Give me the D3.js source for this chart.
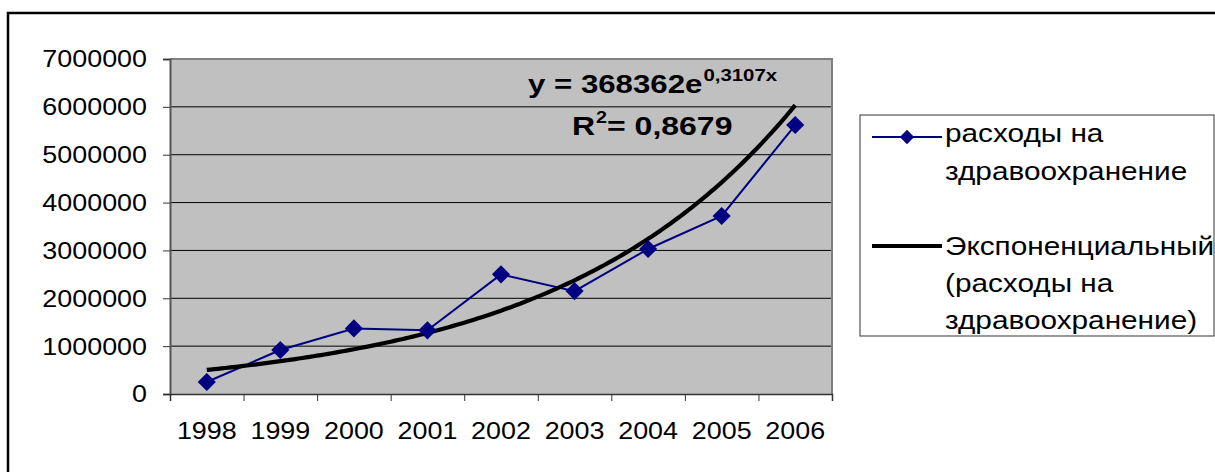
<!DOCTYPE html>
<html>
<head>
<meta charset="utf-8">
<script src="https://cdn.jsdelivr.net/npm/d3@7"></script>
<style>
  html, body { margin: 0; padding: 0; background: #fff; }
  svg { display: block; }
  text { font-family: "Liberation Sans", Arial, sans-serif; fill: #000; }
</style>
</head>
<body>
<svg id="chart" width="1215" height="472"></svg>
<script>
// Health expenditure by year with an exponential trend
const years = ["1998", "1999", "2000", "2001", "2002", "2003", "2004", "2005", "2006"];
const spending = [250000, 920000, 1370000, 1330000, 2500000, 2150000, 3030000, 3720000, 5620000];
const yTicks = [0, 1000000, 2000000, 3000000, 4000000, 5000000, 6000000, 7000000];

// Exponential trend y = a * e^(b x), x = 1..n
const trendA = 368362;
const trendB = 0.3107;
const trendR2 = "0,8679";
const trendLabel = "y = 368362e";
const trendPower = "0,3107x";

const seriesName = ["расходы на", "здравоохранение"];
const trendName = ["Экспоненциальный", "(расходы на", "здравоохранение)"];

const svg = d3.select("#chart");
const STRETCH = 1.12;

// Widen glyphs horizontally; returns the final width of the last node
function stretch(sel, f = STRETCH) {
  let last = 0;
  sel.each(function () {
    const w = this.getComputedTextLength();
    last = w * f;
    d3.select(this).attr("textLength", last).attr("lengthAdjust", "spacingAndGlyphs");
  });
  return last;
}

// Outer chart frame
svg.append("rect")
  .attr("x", 8).attr("y", 13).attr("width", 1260).attr("height", 520)
  .attr("fill", "#fff").attr("stroke", "#000").attr("stroke-width", 2.5);

const plot = { left: 170, right: 832, top: 59, bottom: 394 };

const x = d3.scaleBand().domain(years).range([plot.left, plot.right]);
const xEdge = d3.scaleLinear().domain([0, years.length]).range([plot.left, plot.right]);
const y = d3.scaleLinear().domain([0, 7000000]).range([plot.bottom, plot.top]);
const xTrend = d3.scaleLinear().domain([1, years.length])
  .range([x(years[0]) + x.bandwidth() / 2, x(years[years.length - 1]) + x.bandwidth() / 2]);

// Plot background
svg.append("rect")
  .attr("x", plot.left).attr("y", plot.top)
  .attr("width", plot.right - plot.left).attr("height", plot.bottom - plot.top)
  .attr("fill", "#c0c0c0");

// Horizontal gridlines
svg.append("g")
  .selectAll("line")
  .data(yTicks.filter(v => v > 0 && v < 7000000))
  .join("line")
  .attr("x1", plot.left).attr("x2", plot.right)
  .attr("y1", d => y(d)).attr("y2", d => y(d))
  .attr("stroke", "#000").attr("stroke-width", 1);

// Plot border (top and right)
svg.append("path")
  .attr("d", `M${plot.left},${plot.top}H${plot.right}V${plot.bottom}`)
  .attr("fill", "none").attr("stroke", "#808080").attr("stroke-width", 2);

// Y axis
const yAxis = svg.append("g")
  .attr("transform", `translate(${plot.left},0)`)
  .call(d3.axisLeft(y).tickValues(yTicks).tickFormat(d3.format("d")).tickSize(7).tickPadding(16));
yAxis.select(".domain").attr("stroke", "#555").attr("stroke-width", 2);
yAxis.selectAll(".tick line").attr("stroke", "#333");
yAxis.selectAll("text").attr("font-size", 24).attr("font-family", "Liberation Sans, Arial, sans-serif").attr("dy", "0.33em");
stretch(yAxis.selectAll("text"));

// X axis: boundary ticks
const xTicksG = svg.append("g")
  .attr("transform", `translate(0,${plot.bottom})`)
  .call(d3.axisBottom(xEdge).tickValues(d3.range(years.length + 1)).tickFormat("").tickSize(7));
xTicksG.select(".domain").attr("stroke", "#333").attr("stroke-width", 1.5);
xTicksG.selectAll(".tick line").attr("stroke", "#333");

// X axis: category labels
const xLabels = svg.append("g")
  .attr("transform", `translate(0,${plot.bottom})`)
  .call(d3.axisBottom(x).tickSize(0).tickPadding(28));
xLabels.select(".domain").remove();
xLabels.selectAll("text").attr("font-size", 24).attr("font-family", "Liberation Sans, Arial, sans-serif");
stretch(xLabels.selectAll("text"));

// Data line
const line = d3.line()
  .x((d, i) => x(years[i]) + x.bandwidth() / 2)
  .y(d => y(d));
svg.append("path")
  .datum(spending)
  .attr("d", line)
  .attr("fill", "none").attr("stroke", "#000080").attr("stroke-width", 2);

// Trend line
const trendPts = d3.range(1, years.length + 0.0001, 0.05).map(t => [t, trendA * Math.exp(trendB * t)]);
svg.append("path")
  .datum(trendPts)
  .attr("d", d3.line().x(d => xTrend(d[0])).y(d => y(d[1])))
  .attr("fill", "none").attr("stroke", "#000").attr("stroke-width", 4.2)
  .attr("stroke-linejoin", "round");

// Diamond markers
const diamond = d3.symbol().type(d3.symbolDiamond2);
svg.append("g")
  .selectAll("path")
  .data(spending)
  .join("path")
  .attr("transform", (d, i) => `translate(${x(years[i]) + x.bandwidth() / 2},${y(d)})`)
  .attr("d", diamond.size(210)())
  .attr("fill", "#000080");

// Trend equation with superscript pieces
function supText(x0, baseY, main, sup, tail, mainSize, supSize, supRaise, f) {
  const t1 = svg.append("text").attr("x", x0).attr("y", baseY)
    .attr("font-size", mainSize).attr("font-weight", "bold").text(main);
  const w1 = stretch(t1, f);
  const t2 = svg.append("text").attr("x", x0 + w1 + 1).attr("y", baseY - supRaise)
    .attr("font-size", supSize).attr("font-weight", "bold").text(sup);
  const w2 = stretch(t2, f);
  if (tail) {
    const t3 = svg.append("text").attr("x", x0 + w1 + w2 + 1).attr("y", baseY)
      .attr("font-size", mainSize).attr("font-weight", "bold").text(tail);
    stretch(t3, f);
  }
}
supText(528, 93, trendLabel, trendPower, null, 26, 17, 12, 1.2);
supText(572, 135, "R", "2", " = " + trendR2, 26, 16, 12, 1.23);

// Legend
const lg = svg.append("g");
lg.append("rect")
  .attr("x", 860).attr("y", 115).attr("width", 354).attr("height", 221)
  .attr("fill", "#fff").attr("stroke", "#333").attr("stroke-width", 1);

lg.append("line").attr("x1", 872).attr("x2", 942).attr("y1", 137).attr("y2", 137)
  .attr("stroke", "#000080").attr("stroke-width", 2);
lg.append("path").attr("transform", "translate(907,137)")
  .attr("d", diamond.size(130)()).attr("fill", "#000080");
lg.append("line").attr("x1", 872).attr("x2", 942).attr("y1", 246).attr("y2", 246)
  .attr("stroke", "#000").attr("stroke-width", 4);

const legendLines = [
  { text: seriesName[0], y: 142 },
  { text: seriesName[1], y: 180 },
  { text: trendName[0], y: 255 },
  { text: trendName[1], y: 292 },
  { text: trendName[2], y: 329 }
];
lg.selectAll("text.item")
  .data(legendLines)
  .join("text")
  .attr("class", "item")
  .attr("x", 945).attr("y", d => d.y)
  .attr("font-size", 25)
  .text(d => d.text)
  .call(sel => stretch(sel, 1.19));
</script>
</body>
</html>
